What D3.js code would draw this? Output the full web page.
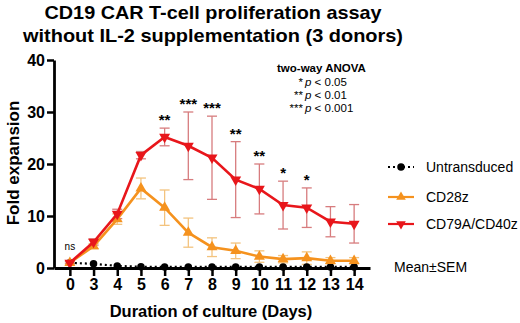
<!DOCTYPE html>
<html>
<head>
<meta charset="utf-8">
<script src="https://cdn.jsdelivr.net/npm/d3@7"></script>
<style>
  body { margin: 0; background: #fff; }
  svg { font-family: "Liberation Sans", Arial, sans-serif; }
</style>
</head>
<body>
<div id="chart"></div>
<script>
const days = ["0", "3", "4", "5", "6", "7", "8", "9", "10", "11", "12", "13", "14"];
const untransduced = [1.0, 0.8, 0.4, 0.25, 0.2, 0.2, 0.2, 0.2, 0.2, 0.2, 0.2, 0.2, 0.2];
const cd28z = [1.0, 4.2, 9.4, 15.3, 11.6, 6.8, 4.0, 3.3, 2.2, 1.7, 1.9, 1.4, 1.4];
const cd28zSem = [0.2, 0.5, 1.0, 2.0, 3.4, 2.8, 1.8, 1.5, 1.1, 0.7, 1.2, 0.6, 0.6];
const cd79 = [1.0, 5.0, 10.4, 21.7, 25.2, 23.5, 21.2, 17.0, 15.2, 12.1, 11.6, 8.9, 8.5];
const cd79Sem = [0.2, 0.6, 0.9, 0.7, 1.7, 6.5, 8.0, 7.3, 4.8, 4.6, 3.8, 2.9, 3.7];
const sigLabels = ["ns", "", "", "", "**", "***", "***", "**", "**", "*", "*", "", ""];
const yTicks = [0, 10, 20, 30, 40];

const width = 520, height = 323;
const red = "#e8161b", orange = "#f5921e";
const redErr = "#d77c7e", orangeErr = "#f3c37e";

const svg = d3.select("#chart").append("svg")
    .attr("width", width)
    .attr("height", height);

const x = d3.scalePoint()
    .domain(days)
    .range([54, 370])
    .padding(0.67);

const y = d3.scaleLinear()
    .domain([0, 40])
    .range([268, 60]);

// title
const title = svg.append("text")
    .attr("text-anchor", "middle")
    .attr("font-weight", "bold")
    .attr("font-size", 18.5);
title.append("tspan").attr("x", 213).attr("y", 18.5)
    .attr("textLength", 337).attr("lengthAdjust", "spacingAndGlyphs")
    .text("CD19 CAR T-cell proliferation assay");
title.append("tspan").attr("x", 213).attr("y", 41.5)
    .attr("textLength", 380).attr("lengthAdjust", "spacingAndGlyphs")
    .text("without IL-2 supplementation (3 donors)");

// error bars
function drawErrors(values, sems, color) {
    const g = svg.append("g").attr("stroke", color).attr("stroke-width", 1.3);
    days.forEach((d, i) => {
        const cx = x(d), top = y(values[i] + sems[i]), bot = y(values[i] - sems[i]);
        g.append("line").attr("x1", cx).attr("x2", cx).attr("y1", top).attr("y2", bot);
        g.append("line").attr("x1", cx - 5).attr("x2", cx + 5).attr("y1", top).attr("y2", top);
        g.append("line").attr("x1", cx - 5).attr("x2", cx + 5).attr("y1", bot).attr("y2", bot);
    });
}

function drawLine(values, color, dash) {
    const line = d3.line()
        .x((d, i) => x(days[i]))
        .y(d => y(d));
    svg.append("path")
        .datum(values)
        .attr("fill", "none")
        .attr("stroke", color)
        .attr("stroke-width", dash ? 2.2 : 2.6)
        .attr("stroke-dasharray", dash || null)
        .attr("d", line);
}

function drawMarkers(values, color, type) {
    const sym = d3.symbol().type(type === "circle" ? d3.symbolCircle : d3.symbolTriangle)
        .size(type === "circle" ? 44 : 52);
    svg.append("g").selectAll("path")
        .data(values)
        .join("path")
        .attr("d", sym)
        .attr("fill", color)
        .attr("transform", (d, i) => `translate(${x(days[i])},${y(d)})` + (type === "down" ? " rotate(180)" : ""));
}

drawErrors(cd28z, cd28zSem, orangeErr);
drawErrors(cd79, cd79Sem, redErr);

drawLine(untransduced, "#000", "2,3");
drawMarkers(untransduced, "#000", "circle");
drawLine(cd28z, orange);
drawMarkers(cd28z, orange, "up");
drawLine(cd79, red);
drawMarkers(cd79, red, "down");

// axes
const yAxis = svg.append("g")
    .attr("transform", "translate(54,0)")
    .call(d3.axisLeft(y).tickValues(yTicks).tickSize(7).tickSizeOuter(0).tickPadding(2));

const xAxis = svg.append("g")
    .attr("transform", "translate(0,268)")
    .call(d3.axisBottom(x).tickSize(8).tickSizeOuter(0).tickPadding(3));

[xAxis, yAxis].forEach(g => {
    g.select(".domain").attr("stroke-width", 2.8);
    g.selectAll(".tick line").attr("stroke-width", 2.5);
    g.selectAll(".tick text")
        .attr("font-family", "\"Liberation Sans\", Arial, sans-serif")
        .attr("font-weight", "bold")
        .attr("font-size", 16)
        .attr("fill", "#000");
});

svg.append("text")
    .attr("transform", "translate(19,163) rotate(-90)")
    .attr("text-anchor", "middle")
    .attr("font-weight", "bold")
    .attr("font-size", 17)
    .text("Fold expansion");

svg.append("text")
    .attr("x", 211)
    .attr("y", 317)
    .attr("text-anchor", "middle")
    .attr("font-weight", "bold")
    .attr("font-size", 16.5)
    .text("Duration of culture (Days)");

// significance marks
svg.append("g").selectAll("text")
    .data(sigLabels)
    .join("text")
    .attr("x", (d, i) => x(days[i]))
    .attr("y", (d, i) => d === "ns" ? y(cd79[i] + cd79Sem[i]) - 12 : y(cd79[i] + cd79Sem[i]) - 3)
    .attr("text-anchor", "middle")
    .attr("font-weight", d => d === "ns" ? "normal" : "bold")
    .attr("font-size", d => d === "ns" ? 10 : 15)
    .text(d => d);

// stats note
const note = svg.append("g");
note.append("text")
    .attr("x", 277).attr("y", 72)
    .attr("font-weight", "bold").attr("font-size", 11.5)
    .text("two-way ANOVA");
const pLines = [["*", "0.05"], ["**", "0.01"], ["***", "0.001"]];
pLines.forEach((p, i) => {
    note.append("text").attr("x", 303).attr("y", 85.5 + i * 13)
        .attr("text-anchor", "end").attr("font-size", 11.5)
        .text(p[0]);
    note.append("text").attr("x", 305).attr("y", 85.5 + i * 13).attr("font-size", 11.5)
        .html(`<tspan font-style="italic">p</tspan> &lt; ${p[1]}`);
});

// legend
const legend = svg.append("g");
const legendItems = [
    { label: "Untransduced", color: "#000", type: "circle", dash: "2,3", y: 167 },
    { label: "CD28z", color: orange, type: "up", y: 197 },
    { label: "CD79A/CD40z", color: red, type: "down", y: 224 }
];
legendItems.forEach(item => {
    legend.append("line")
        .attr("x1", 388).attr("x2", 414)
        .attr("y1", item.y).attr("y2", item.y)
        .attr("stroke", item.color)
        .attr("stroke-width", 2.2)
        .attr("stroke-dasharray", item.dash || null);
    const sym = d3.symbol().type(item.type === "circle" ? d3.symbolCircle : d3.symbolTriangle)
        .size(item.type === "circle" ? 44 : 40);
    legend.append("path")
        .attr("d", sym)
        .attr("fill", item.color)
        .attr("transform", `translate(401,${item.y})` + (item.type === "down" ? " rotate(180)" : ""));
    legend.append("text")
        .attr("x", 426).attr("y", item.y + 5)
        .attr("font-size", 14)
        .text(item.label);
});
legend.append("text")
    .attr("x", 394).attr("y", 272)
    .attr("font-size", 14)
    .text("Mean±SEM");
</script>
</body>
</html>
